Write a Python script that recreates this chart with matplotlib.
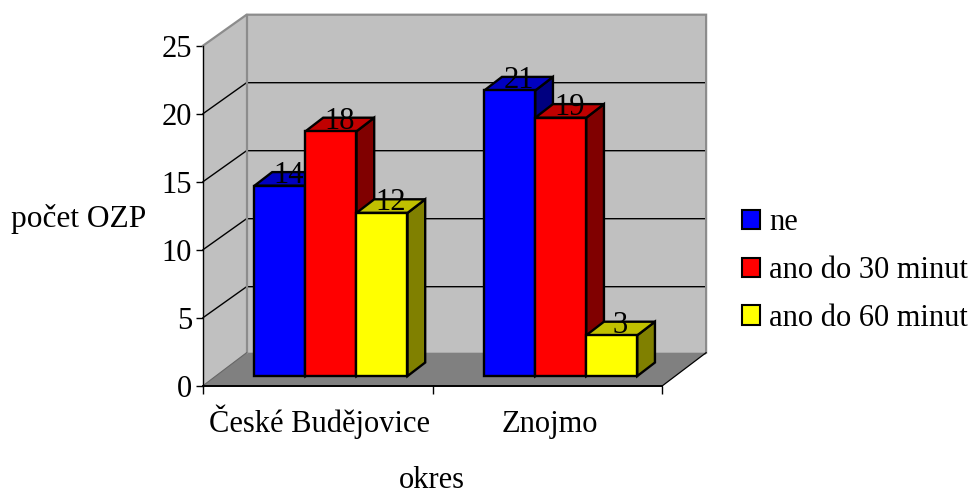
import matplotlib
matplotlib.use("Agg")
import matplotlib.pyplot as plt
from matplotlib.patches import Polygon, Patch
from matplotlib.transforms import ScaledTranslation

plt.rcParams['font.family'] = ['Liberation Serif', 'DejaVu Serif']

categories = ["České Budějovice", "Znojmo"]
series_names = ["ne", "ano do 30 minut", "ano do 60 minut"]
ne = [14, 21]
ano_30 = [18, 19]
ano_60 = [12, 3]
series_values = [ne, ano_30, ano_60]
y_ticks = [0, 5, 10, 15, 20, 25]

front_colors = ["#0000ff", "#ff0000", "#ffff00"]
top_colors = ["#0000c0", "#c00000", "#c0c000"]
side_colors = ["#000080", "#800000", "#808000"]

W, H = 970, 490
L, R, T, B = 203, 662.5, 45.7, 385.7
FS = 22

fig = plt.figure(figsize=(W / 100, H / 100), dpi=100)
ax = fig.add_axes([L / W, 1 - B / H, (R - L) / W, (B - T) / H])
ax.set_xlim(0, len(categories))
ax.set_ylim(0, 25)
ax.patch.set_visible(False)

cat_px = (R - L) / 2
val_px = (B - T) / 25
wall_dx = 43.6 / cat_px
wall_dy = 31.0 / val_px
floor_dy = 33.0 / val_px
bar_off_x = 12.7 / cat_px
bar_off_y = 9.6 / val_px
bar_dx = 17.7 / cat_px
bar_dy = 13.6 / val_px
bar_start = 38.8 / cat_px
bar_w = 51.0 / cat_px
top_val = y_ticks[-1]
n_cat = len(categories)


def poly(pts, fc, ec, lw, z):
    ax.add_patch(Polygon(pts, closed=True, facecolor=fc, edgecolor=ec, linewidth=lw,
                         zorder=z, clip_on=False, joinstyle='miter'))


# walls and floor
poly([(0, 0), (wall_dx, wall_dy), (wall_dx, top_val + wall_dy), (0, top_val)], "#c0c0c0", "none", 0, 1)
poly([(wall_dx, wall_dy), (n_cat + wall_dx, wall_dy), (n_cat + wall_dx, top_val + wall_dy),
      (wall_dx, top_val + wall_dy)], "#c0c0c0", "none", 0, 1)
poly([(0, 0), (n_cat, 0), (n_cat + wall_dx, floor_dy), (wall_dx, floor_dy)], "#808080", "none", 0, 1.5)

# grid lines
for v in y_ticks[1:-1]:
    ax.plot([0, wall_dx, n_cat + wall_dx], [v, v + wall_dy, v + wall_dy], color="black", lw=1.0,
            zorder=2, clip_on=False, solid_joinstyle='miter')

# wall edges
ax.plot([0, wall_dx, n_cat + wall_dx, n_cat + wall_dx], [top_val, top_val + wall_dy, top_val + wall_dy, floor_dy],
        color="#8c8c8c", lw=1.6, zorder=3, clip_on=False, solid_joinstyle='miter')
ax.plot([wall_dx, wall_dx], [floor_dy, top_val + wall_dy], color="#8c8c8c", lw=1.6, zorder=3, clip_on=False)
ax.plot([0, wall_dx], [0, floor_dy], color="#666666", lw=0.8, zorder=3, clip_on=False)
ax.plot([n_cat, n_cat + wall_dx], [0, floor_dy], color="black", lw=0.9, zorder=3, clip_on=False)

# bars
z = 4
for c in range(n_cat):
    for s, vals in enumerate(series_values):
        v = vals[c]
        x0 = c + bar_start + s * bar_w + bar_off_x
        x1 = x0 + bar_w
        y0 = bar_off_y
        y1 = y0 + v
        poly([(x1, y0), (x1 + bar_dx, y0 + bar_dy), (x1 + bar_dx, y1 + bar_dy), (x1, y1)],
             side_colors[s], "black", 1.7, z)
        poly([(x0, y1), (x1, y1), (x1 + bar_dx, y1 + bar_dy), (x0 + bar_dx, y1 + bar_dy)],
             top_colors[s], "black", 1.7, z)
        ax.bar(x0, v, width=bar_w, bottom=y0, align='edge', color=front_colors[s], edgecolor="black",
               linewidth=1.7, zorder=z + 0.5, clip_on=False)
        z += 1

# value labels
for c in range(n_cat):
    for s, vals in enumerate(series_values):
        v = vals[c]
        xm = c + bar_start + (s + 0.5) * bar_w + bar_off_x + bar_dx / 2
        ax.text(xm, bar_off_y + v + bar_dy, str(v), ha='center', va='center_baseline', fontsize=FS,
                color="black", zorder=50, clip_on=False)

# axes
for name in ("top", "right"):
    ax.spines[name].set_visible(False)
for name in ("left", "bottom"):
    ax.spines[name].set_linewidth(1.0)
    ax.spines[name].set_zorder(40)
ax.spines["bottom"].set_linewidth(1.4)
ax.set_yticks(y_ticks)
ax.set_yticklabels([str(v) for v in y_ticks], fontsize=FS)
ax.tick_params(axis='y', length=5, width=1, pad=3)
ax.set_xticks(range(n_cat + 1))
ax.set_xticklabels([""] * (n_cat + 1))
ax.tick_params(axis='x', which='major', length=6, width=1)
ax.set_xticks([c + 0.5 for c in range(n_cat)], minor=True)
ax.set_xticklabels(categories, minor=True, fontsize=FS)
ax.tick_params(axis='x', which='minor', length=0, pad=33)
for lab in ax.get_xticklabels(minor=True):
    lab.set_verticalalignment('baseline')
    lab.set_transform(lab.get_transform() + ScaledTranslation(1.4 / 72, 0, fig.dpi_scale_trans))

fig.text(79 / W, 1 - 226.7 / H, "počet OZP", ha='center', va='baseline', fontsize=22.6)
fig.text(432 / W, 1 - 488.3 / H, "okres", ha='center', va='baseline', fontsize=FS)

handles = [Patch(facecolor=front_colors[i], edgecolor="black", linewidth=1.5, label=series_names[i])
           for i in range(3)]
fig.legend(handles=handles, loc='center left', bbox_to_anchor=(742 / W, 1 - 270.5 / H), frameon=False,
           fontsize=FS, handlelength=0.6, handleheight=0.6, handletextpad=0.3, labelspacing=0.62,
           borderpad=0, borderaxespad=0)

fig.savefig("out.png", dpi=100)
